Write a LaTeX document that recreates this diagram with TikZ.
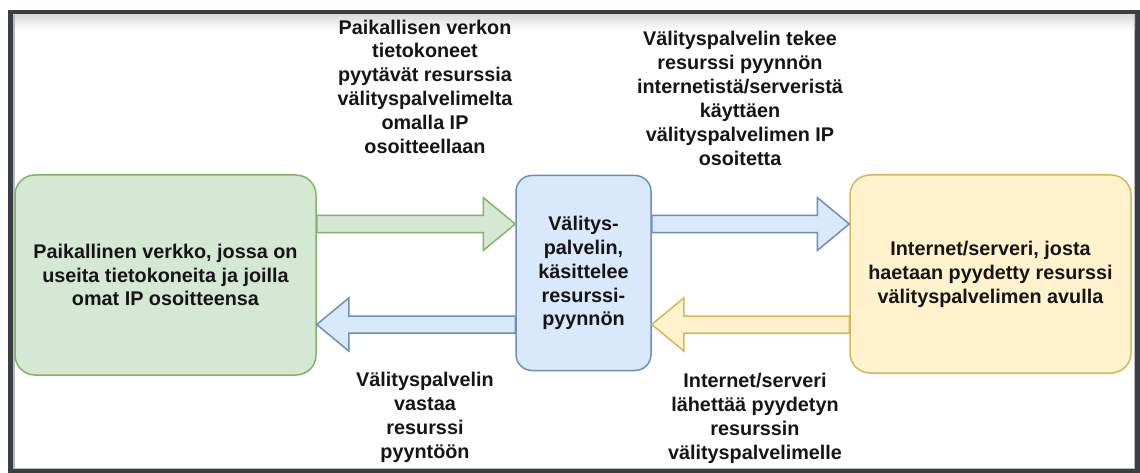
\documentclass[tikz,border=0pt]{standalone}
\usepackage{fontspec}
\setmainfont{Liberation Sans}
\usetikzlibrary{calc}

\definecolor{frameDark}{HTML}{3B3E42}
\definecolor{frameLight}{HTML}{B8BABC}
\definecolor{gFill}{HTML}{D5E8D4}
\definecolor{gLine}{HTML}{82B366}
\definecolor{bFill}{HTML}{DAE8FC}
\definecolor{bLine}{HTML}{6C8EBF}
\definecolor{yFill}{HTML}{FFF2CC}
\definecolor{yLine}{HTML}{D6B656}
\definecolor{ink}{HTML}{151515}

% broad block arrow from coordinate #2 to tip #3, pointing right / left
\newcommand\fatright[3]{%
  \draw[#1] ($(#2)+(0,-8.5)$) -- ($(#3)+(-32,-8.5)$) -- ($(#3)+(-32,-26.5)$)
    -- (#3) -- ($(#3)+(-32,26.5)$) -- ($(#3)+(-32,8.5)$) -- ($(#2)+(0,8.5)$) -- cycle;}
\newcommand\fatleft[3]{%
  \draw[#1] ($(#2)+(0,-8.5)$) -- ($(#3)+(32,-8.5)$) -- ($(#3)+(32,-26.5)$)
    -- (#3) -- ($(#3)+(32,26.5)$) -- ($(#3)+(32,8.5)$) -- ($(#2)+(0,8.5)$) -- cycle;}

\tikzset{
  txt/.style={text=ink, font=\bfseries\fontsize{19.8}{23.9}\selectfont, align=center, inner sep=0pt},
  box/.style={txt, line width=1.5pt, rounded corners=20pt},
  lbl/.style={txt},
  garrow/.style={fill=gFill, draw=gLine, line width=1.5pt},
  barrow/.style={fill=bFill, draw=bLine, line width=1.5pt},
  yarrow/.style={fill=yFill, draw=yLine, line width=1.5pt},
}

\begin{document}
\begin{tikzpicture}[x=1pt, y=-1pt]
\useasboundingbox (0,0) rectangle (1140,473);

% window frame
\fill[frameDark] (8,10) rectangle (1140,473);
\fill[white] (13,15) rectangle (1135,469);
\shade[top color=black!14, bottom color=white] (13,15) rectangle (1135,30);
\draw[frameLight, line width=1.5pt] (13.75,15) -- (13.75,468.25) -- (1134.25,468.25) -- (1134.25,15);

% main boxes
\node[box, fill=gFill, draw=gLine, minimum width=301, minimum height=200] (lan) at (165.5,275)
  {Paikallinen verkko, jossa on\\useita tietokoneita ja joilla\\omat IP osoitteensa};
\node[box, rounded corners=16pt, fill=bFill, draw=bLine, minimum width=135, minimum height=195] (proxy) at (583.5,273)
  {Välitys-\\palvelin,\\käsittelee\\resurssi-\\pyynnön};
\node[box, fill=yFill, draw=yLine, minimum width=281, minimum height=198] (net) at (990.5,274)
  {Internet/serveri, josta\\haetaan pyydetty resurssi\\välityspalvelimen avulla};

% arrow end points
\coordinate (a1s) at (lan.east |- 0,224);
\coordinate (a1t) at (proxy.west |- 0,224);
\coordinate (a2s) at (proxy.east |- 0,224);
\coordinate (a2t) at (net.west |- 0,224);
\coordinate (a3s) at (net.west |- 0,324.5);
\coordinate (a3t) at (proxy.east |- 0,324.5);
\coordinate (a4s) at (proxy.west |- 0,324.5);
\coordinate (a4t) at (lan.east |- 0,324.5);

\fatright{garrow}{a1s}{a1t}
\fatright{barrow}{a2s}{a2t}
\fatleft{yarrow}{a3s}{a3t}
\fatleft{barrow}{a4s}{a4t}

% captions
\node[lbl] (c1) at (425,86.75)
  {Paikallisen verkon\\tietokoneet\\pyytävät resurssia\\välityspalvelimelta\\omalla IP\\osoitteellaan};
\node[lbl] (c2) at (740,98.25)
  {Välityspalvelin tekee\\resurssi pyynnön\\internetistä/serveristä\\käyttäen\\välityspalvelimen IP\\osoitetta};
\node[lbl] (c3) at (425,417.25)
  {Välityspalvelin\\vastaa\\resurssi\\pyyntöön};
\node[lbl] (c4) at (755,418.5)
  {Internet/serveri\\lähettää pyydetyn\\resurssin\\välityspalvelimelle};
\end{tikzpicture}
\end{document}
